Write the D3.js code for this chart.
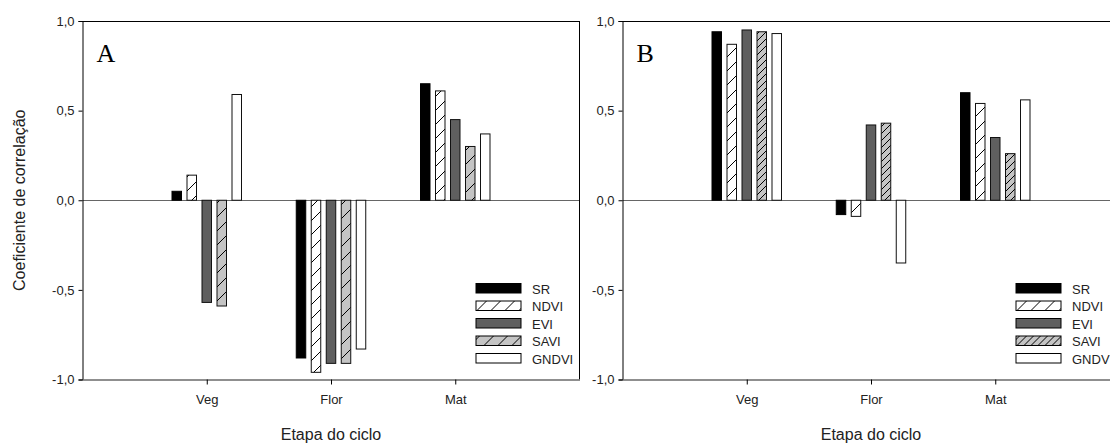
<!DOCTYPE html>
<html>
<head>
<meta charset="utf-8">
<script src="https://cdn.jsdelivr.net/npm/d3@7"></script>
<style>
  html, body { margin: 0; padding: 0; background: #fff; }
  svg { display: block; }
</style>
</head>
<body>
<svg id="chart" width="1110" height="443"></svg>
<script>
// Growth stages on the x axis
const stages = ["Veg", "Flor", "Mat"];
// Vegetation indices (one bar each per stage)
const indices = ["SR", "NDVI", "EVI", "SAVI", "GNDVI"];
// y-axis ticks
const yTicks = [-1, -0.5, 0, 0.5, 1];

// Panel A: correlation coefficients per stage (Veg, Flor, Mat)
const aSR    = [0.05, -0.88, 0.65];
const aNDVI  = [0.14, -0.96, 0.61];
const aEVI   = [-0.57, -0.91, 0.45];
const aSAVI  = [-0.59, -0.91, 0.30];
const aGNDVI = [0.59, -0.83, 0.37];

// Panel B: correlation coefficients per stage (Veg, Flor, Mat)
const bSR    = [0.94, -0.08, 0.60];
const bNDVI  = [0.87, -0.09, 0.54];
const bEVI   = [0.95, 0.42, 0.35];
const bSAVI  = [0.94, 0.43, 0.26];
const bGNDVI = [0.93, -0.35, 0.56];

const panels = [
  { id: "A", left: 82.5, series: [aSR, aNDVI, aEVI, aSAVI, aGNDVI], saviStep: 14, yTitle: true },
  { id: "B", left: 622.5, series: [bSR, bNDVI, bEVI, bSAVI, bGNDVI], saviStep: 7, yTitle: false }
];

const SANS = "Liberation Sans, Arial, sans-serif";
const SERIF = "Liberation Serif, Times New Roman, serif";

const svg = d3.select("#chart");
const defs = svg.append("defs");
const plotTop = 21, plotBottom = 379.5, plotW = 497;

const locale = d3.formatLocale({ decimal: ",", thousands: ".", grouping: [3], currency: ["", ""], minus: "-" });
const fmt = locale.format(".1f");

function hatch(id, bg, step) {
  const p = defs.append("pattern")
    .attr("id", id)
    .attr("patternUnits", "userSpaceOnUse")
    .attr("width", step).attr("height", step);
  p.append("rect").attr("width", step).attr("height", step).attr("fill", bg);
  p.append("path")
    .attr("d", `M0,${step} L${step},0 M${-step / 2},${step / 2} L${step / 2},${-step / 2} M${step / 2},${step * 1.5} L${step * 1.5},${step / 2}`)
    .attr("stroke", "#000").attr("stroke-width", 1).attr("fill", "none");
}

const y = d3.scaleLinear().domain([-1, 1]).range([plotBottom, plotTop]);

panels.forEach(panel => {
  hatch(`ndvi-${panel.id}`, "#fff", 14);
  hatch(`savi-${panel.id}`, "#c4c4c4", panel.saviStep);
  const fills = ["#000", `url(#ndvi-${panel.id})`, "#5f5f5f", `url(#savi-${panel.id})`, "#fff"];

  const L = panel.left;
  const x = d3.scaleLinear().domain([0, 4]).range([L, L + plotW]);
  const inner = d3.scaleBand().domain(indices).range([-37.5, 37.5])
    .paddingInner(0.367).paddingOuter(0.1835);

  const g = svg.append("g");

  // zero line
  g.append("line")
    .attr("x1", L).attr("x2", L + plotW)
    .attr("y1", Math.round(y(0)) + 0.5).attr("y2", Math.round(y(0)) + 0.5)
    .attr("stroke", "#666").attr("stroke-width", 1);

  // bars
  indices.forEach((name, k) => {
    const vals = panel.series[k];
    g.selectAll(null).data(stages.map((s, i) => ({ i, v: vals[i] })))
      .join("rect")
      .attr("x", d => x(d.i + 1) + inner(name))
      .attr("width", inner.bandwidth())
      .attr("y", d => y(Math.max(0, d.v)))
      .attr("height", d => Math.abs(y(d.v) - y(0)))
      .attr("fill", fills[k])
      .attr("stroke", k === 0 ? "#000" : "#111")
      .attr("stroke-width", 1);
  });

  // frame: top and right edges
  g.append("line").attr("x1", L).attr("x2", L + plotW).attr("y1", plotTop + 0.5).attr("y2", plotTop + 0.5)
    .attr("stroke", "#000");
  g.append("line").attr("x1", L + plotW).attr("x2", L + plotW).attr("y1", plotTop).attr("y2", plotBottom)
    .attr("stroke", "#000");

  // y axis
  const yAxis = d3.axisLeft(y).tickValues(yTicks).tickFormat(fmt).tickSize(4).tickPadding(4);
  const ya = g.append("g").attr("transform", `translate(${L},0)`).call(yAxis);
  ya.select(".domain").attr("stroke", "#000");
  ya.selectAll(".tick line").attr("stroke", "#000");
  ya.selectAll(".tick text").attr("font-size", 13).attr("font-family", SANS).attr("fill", "#222");

  // x axis at the bottom
  const xAxis = d3.axisBottom(x).tickValues([1, 2, 3]).tickFormat(d => stages[d - 1])
    .tickSizeInner(5).tickSizeOuter(0).tickPadding(10);
  const xa = g.append("g").attr("transform", `translate(0,${plotBottom})`).call(xAxis);
  xa.select(".domain").attr("stroke", "#6a6a6a").attr("stroke-width", 1.5);
  xa.selectAll(".tick line").attr("stroke", "#000");
  xa.selectAll(".tick text").attr("font-size", 13).attr("font-family", SANS).attr("fill", "#222");

  // x title
  g.append("text").attr("x", L + plotW / 2).attr("y", 440)
    .attr("text-anchor", "middle").attr("font-family", SANS).attr("fill", "#222")
    .attr("font-size", 16).text("Etapa do ciclo");

  // y title
  if (panel.yTitle) {
    g.append("text").attr("transform", `translate(25,${y(0)}) rotate(-90)`)
      .attr("text-anchor", "middle").attr("font-family", SANS).attr("fill", "#222")
      .attr("font-size", 16).text("Coeficiente de correlação");
  }

  // panel letter
  g.append("text").attr("x", L + 14).attr("y", 62)
    .style("font-family", SERIF)
    .attr("font-size", 26).attr("fill", "#000").text(panel.id);

  // legend
  const lg = g.append("g").attr("transform", `translate(${L + 393.5},283.5)`);
  indices.forEach((name, k) => {
    lg.append("rect").attr("x", 0).attr("y", k * 17.5).attr("width", 45).attr("height", 9.5)
      .attr("fill", fills[k]).attr("stroke", "#000").attr("stroke-width", 1);
    lg.append("text").attr("x", 56).attr("y", k * 17.5 + 10)
      .attr("font-family", SANS).attr("fill", "#222")
      .attr("font-size", 13).text(name);
  });
});
</script>
</body>
</html>
